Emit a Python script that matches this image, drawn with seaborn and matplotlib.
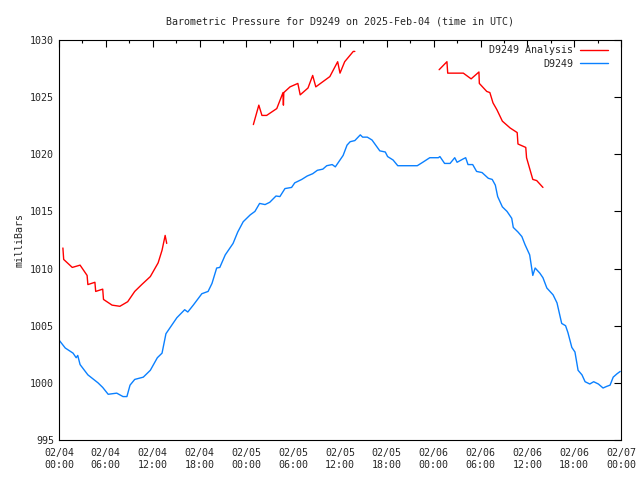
import pandas as pd
import matplotlib
matplotlib.use("Agg")
import matplotlib.pyplot as plt
import matplotlib.dates as mdates
import seaborn as sns

# hours after 2025-02-04 00:00 UTC, pressure in mb
obs_hours = [0.0, 0.8, 1.8, 2.2, 2.4, 2.7, 3.7, 5.0, 5.6, 6.3, 7.4, 8.2, 8.7, 9.1, 9.7,
             10.8, 11.7, 12.6, 13.2, 13.7, 14.2, 15.1, 16.1, 16.5, 17.2, 18.3, 19.1,
             19.6, 20.2, 20.6, 21.3, 22.3, 22.9, 23.6, 24.5, 25.1, 25.7, 26.4, 27.0,
             27.8, 28.3, 28.95, 29.8, 30.2, 31.1, 31.8, 32.5, 33.1, 33.8, 34.3, 35.0,
             35.4, 36.0, 36.4, 36.9, 37.3, 37.9, 38.6, 38.9, 39.5, 40.1, 41.1, 41.8,
             42.1, 42.8, 43.4, 44.6, 45.9, 46.6, 47.5, 48.6, 48.8, 49.4, 50.1, 50.7,
             51.0, 51.8, 52.1, 52.4, 53.0, 53.5, 54.2, 55.0, 55.5, 55.9, 56.2, 56.8,
             57.4, 58.0, 58.2, 58.8, 59.3, 59.7, 60.3, 60.7, 61.0, 61.6, 62.0, 62.5,
             62.9, 63.3, 63.8, 64.4, 64.9, 65.2, 65.7, 66.1, 66.5, 67.0, 67.4, 68.0,
             68.5, 69.1, 69.7, 70.2, 70.6, 71.0, 71.5, 71.9]
obs_mb = [1003.75, 1003.05, 1002.6, 1002.2, 1002.4, 1001.6, 1000.7, 1000.0, 999.6, 999.0,
          999.1, 998.8, 998.8, 999.8, 1000.3, 1000.5, 1001.1, 1002.2, 1002.6, 1004.3,
          1004.8, 1005.7, 1006.4, 1006.2, 1006.8, 1007.8, 1008.0, 1008.7, 1010.05, 1010.1,
          1011.2, 1012.2, 1013.2, 1014.1, 1014.7, 1015.0, 1015.7, 1015.6, 1015.8, 1016.35,
          1016.3, 1017.0, 1017.1, 1017.5, 1017.8, 1018.1, 1018.3, 1018.6, 1018.7, 1019.0,
          1019.1, 1018.9, 1019.5, 1019.9, 1020.8, 1021.1, 1021.2, 1021.7, 1021.5, 1021.5,
          1021.25, 1020.3, 1020.2, 1019.8, 1019.5, 1019.0, 1019.0, 1019.0, 1019.3, 1019.7,
          1019.7, 1019.8, 1019.2, 1019.2, 1019.7, 1019.3, 1019.6, 1019.7, 1019.1, 1019.1,
          1018.5, 1018.4, 1017.9, 1017.8, 1017.3, 1016.3, 1015.4, 1015.0, 1014.4, 1013.6,
          1013.2, 1012.8, 1012.1, 1011.2, 1009.4, 1010.05, 1009.6, 1009.2, 1008.3, 1008.0,
          1007.7, 1007.0, 1005.2, 1005.0, 1004.4, 1003.1, 1002.7, 1001.1, 1000.7, 1000.1,
          999.9, 1000.1, 999.9, 999.55, 999.7, 999.8, 1000.5, 1000.8, 1001.0]

# analysis comes in three separate pieces
ana1_hours = [0.5, 0.6, 1.7, 2.7, 3.6, 3.7, 4.6, 4.7, 5.6, 5.7, 6.8, 7.8, 8.8, 9.7,
              10.6, 11.7, 12.7, 13.2, 13.6, 13.8]
ana1_mb = [1011.8, 1010.8, 1010.1, 1010.3, 1009.4, 1008.6, 1008.8, 1008.0, 1008.2, 1007.3,
           1006.8, 1006.7, 1007.1, 1008.0, 1008.6, 1009.3, 1010.5, 1011.6, 1012.9, 1012.2]
ana2_hours = [24.9, 25.6, 26.0, 26.6, 27.9, 28.7, 28.75, 28.8, 29.6, 30.6, 30.9, 31.9,
              32.5, 32.9, 34.7, 35.7, 36.0, 36.6, 37.7, 37.9]
ana2_mb = [1022.6, 1024.3, 1023.4, 1023.4, 1024.0, 1025.4, 1024.3, 1025.4, 1025.9, 1026.2,
           1025.2, 1025.8, 1026.9, 1025.9, 1026.8, 1028.1, 1027.1, 1028.1, 1029.0, 1029.0]
ana3_hours = [48.7, 49.7, 49.8, 51.8, 52.8, 53.8, 53.85, 54.8, 55.2, 55.6, 56.1, 56.8,
              57.8, 58.7, 58.8, 59.8, 59.9, 60.7, 61.2, 62.0]
ana3_mb = [1027.4, 1028.1, 1027.1, 1027.1, 1026.6, 1027.2, 1026.2, 1025.5, 1025.4, 1024.5,
           1023.9, 1022.9, 1022.3, 1021.9, 1020.9, 1020.6, 1019.7, 1017.8, 1017.7, 1017.1]

start = pd.Timestamp("2025-02-04 00:00")

frames = []
pieces = [("D9249", 0, obs_hours, obs_mb),
          ("D9249 Analysis", 1, ana1_hours, ana1_mb),
          ("D9249 Analysis", 2, ana2_hours, ana2_mb),
          ("D9249 Analysis", 3, ana3_hours, ana3_mb)]
for name, seg, hrs, vals in pieces:
    frames.append(pd.DataFrame({
        "time": start + pd.to_timedelta(hrs, unit="h"),
        "mb": vals,
        "series": name,
        "seg": seg,
    }))
df = pd.concat(frames, ignore_index=True)

sns.set_style("white")
plt.rcParams['font.family'] = ['DejaVu Sans Mono']
fs = 7.2

fig = plt.figure(figsize=(6.4, 4.8), dpi=100)
ax = fig.add_axes([59/640, 40/480, 562/640, 400/480])

sns.lineplot(data=df, x="time", y="mb", hue="series", units="seg", estimator=None,
             sort=False, hue_order=["D9249 Analysis", "D9249"],
             palette={"D9249 Analysis": "#ff0000", "D9249": "#0a80ff"},
             linewidth=1.0, ax=ax)

ax.set_xlim(start, start + pd.Timedelta(hours=72))
ax.set_ylim(995, 1030)
ax.set_yticks(range(995, 1031, 5))
ax.xaxis.set_major_locator(mdates.HourLocator(byhour=[0, 6, 12, 18]))
ax.xaxis.set_minor_locator(mdates.HourLocator(byhour=[3, 9, 15, 21]))
ax.xaxis.set_major_formatter(mdates.DateFormatter("%m/%d\n%H:%M"))

ax.tick_params(which="both", direction="in", top=True, right=True, labelsize=fs, color="black")
ax.tick_params(which="major", length=5, width=0.8)
ax.tick_params(which="minor", length=2.5, width=0.8)
ax.tick_params(axis="x", pad=6)
for s in ax.spines.values():
    s.set_color("black")
    s.set_linewidth(0.8)

ax.set_xlabel("")
ax.set_ylabel("milliBars", fontsize=fs)
ax.set_title("Barometric Pressure for D9249 on 2025-Feb-04 (time in UTC)", fontsize=fs, pad=11)

handles, labels = ax.get_legend_handles_labels()
ax.legend(handles, labels, loc="upper right", bbox_to_anchor=(0.9875, 1.0),
          frameon=False, markerfirst=False,
          fontsize=fs, handlelength=2.8, handletextpad=0.7, labelspacing=0.35,
          borderaxespad=0.25, borderpad=0.3)

fig.savefig("out.png", dpi=100)
